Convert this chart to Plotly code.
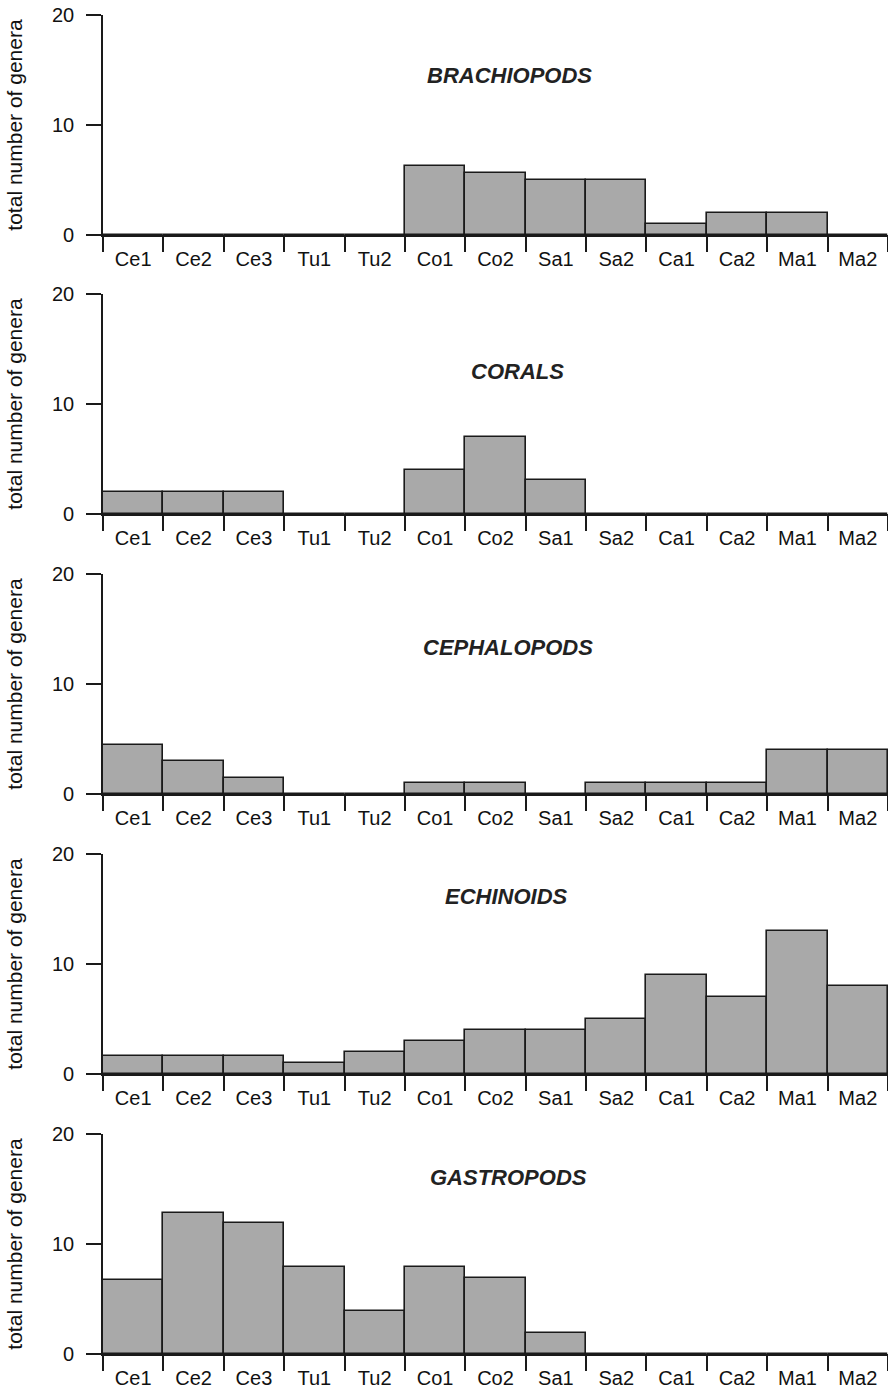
import plotly.graph_objects as go

categories = ["Ce1", "Ce2", "Ce3", "Tu1", "Tu2", "Co1", "Co2", "Sa1", "Sa2", "Ca1", "Ca2", "Ma1", "Ma2"]

brachiopods = [0, 0, 0, 0, 0, 6.3, 5.6, 5.0, 5.0, 1.0, 2.0, 2.0, 0]
corals = [2.0, 2.0, 2.0, 0, 0, 4.0, 7.0, 3.1, 0, 0, 0, 0, 0]
cephalopods = [4.5, 3.0, 1.5, 0, 0, 1.0, 1.0, 0, 1.0, 1.0, 1.0, 4.0, 4.0]
echinoids = [1.6, 1.6, 1.6, 1.0, 2.0, 3.0, 4.0, 4.0, 5.0, 9.0, 7.0, 13.0, 8.0]
gastropods = [6.7, 12.8, 11.9, 7.9, 3.9, 7.9, 6.9, 1.9, 0, 0, 0, 0, 0]

panel_names = ["BRACHIOPODS", "CORALS", "CEPHALOPODS", "ECHINOIDS", "GASTROPODS"]
panel_values = [brachiopods, corals, cephalopods, echinoids, gastropods]

y_ticks = [0, 10, 20]
y_title = "total number of genera"

W, H = 888, 1393
panel_top_px = [15, 294, 574, 854, 1134]
panel_h_px = 220
x_left_px = 103
title_pos = [(509, 76), (517, 371), (508, 647), (506, 896), (508, 1177)]

FONT = "Liberation Sans, Arial, sans-serif"
AX = "#1a1a1a"

fig = go.Figure()
layout = dict(
    width=W, height=H, margin=dict(l=0, r=0, t=0, b=0, autoexpand=False),
    paper_bgcolor="white", plot_bgcolor="white", showlegend=False,
    bargap=0, font=dict(family=FONT, color="#111"),
)
annotations = []
for i, (name, vals) in enumerate(zip(panel_names, panel_values)):
    k = "" if i == 0 else str(i + 1)
    top = panel_top_px[i]
    bot = top + panel_h_px
    fig.add_trace(go.Bar(
        x=categories, y=vals, xaxis="x" + k, yaxis="y" + k,
        marker=dict(color="#a9a9a9", line=dict(color=AX, width=1.6)),
        width=1.0,
    ))
    layout["xaxis" + k] = dict(
        type="category", categoryorder="array", categoryarray=categories,
        domain=[x_left_px / W, 1], anchor="y" + k, automargin=False,
        range=[-0.5, 12.5], showline=True, linecolor=AX, linewidth=1.6,
        ticks="outside", tickson="boundaries", ticklen=15, tickwidth=1.6, tickcolor=AX,
        ticklabelstandoff=5,
        showgrid=False, zeroline=False, tickfont=dict(size=20, color="#111"),
        fixedrange=True,
    )
    layout["yaxis" + k] = dict(
        domain=[1 - bot / H, 1 - top / H], anchor="x" + k, automargin=False,
        range=[0, 20], tickvals=y_ticks, showline=True, linecolor=AX, linewidth=1.6,
        ticks="outside", ticklen=15, tickwidth=1.6, tickcolor=AX, ticklabelstandoff=8,
        showgrid=False, zeroline=False, tickfont=dict(size=20, color="#111"),
        title=dict(text=y_title, font=dict(size=21, color="#111"), standoff=24),
        fixedrange=True,
    )
    tx, ty = title_pos[i]
    annotations.append(dict(
        text="<b><i>" + name + "</i></b>", xref="x" + k + " domain", yref="y" + k + " domain",
        x=(tx - x_left_px) / (W - x_left_px), y=(bot - ty) / panel_h_px,
        xanchor="center", yanchor="middle", showarrow=False,
        font=dict(size=22, color="#222", family=FONT),
    ))
layout["annotations"] = annotations
fig.update_layout(**layout)
fig.write_html("out.html")
